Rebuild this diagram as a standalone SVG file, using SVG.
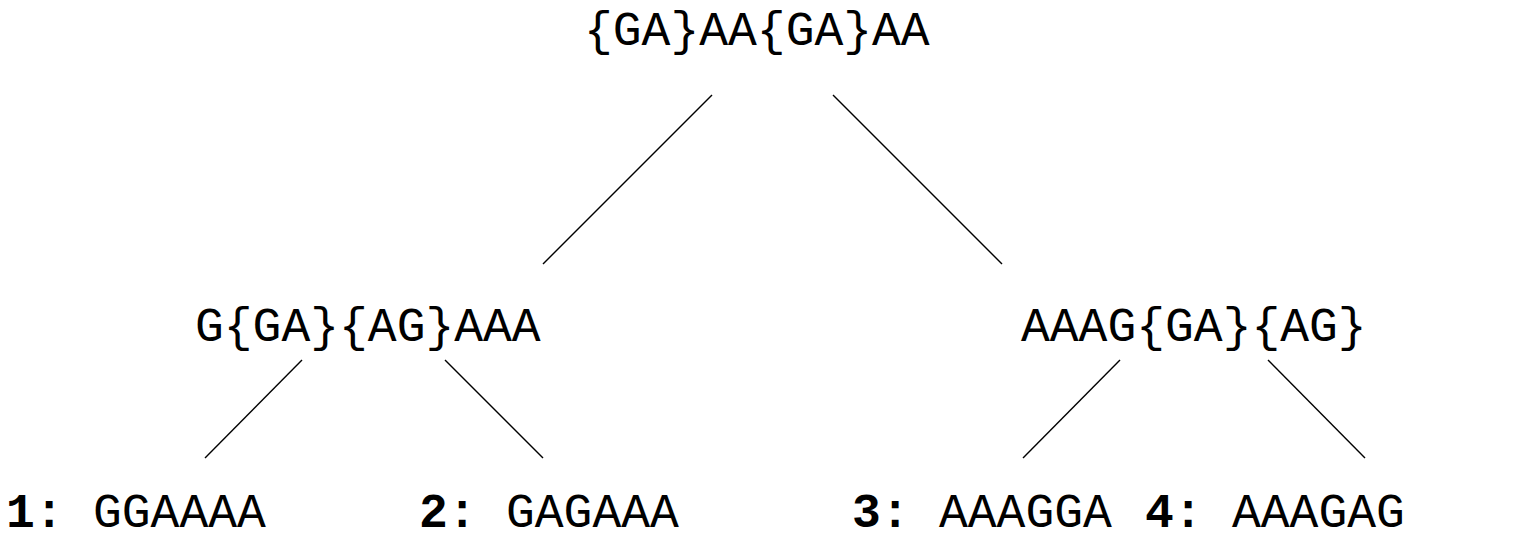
<svg xmlns="http://www.w3.org/2000/svg" width="1516" height="538" viewBox="0 0 1516 538">
  <style>
    .lbl { font-family: "Liberation Mono", "DejaVu Sans Mono", monospace; font-size: 48px; fill: #000; }
    .num { font-weight: bold; }
    .edge { stroke: #000; stroke-width: 1.4; fill: none; }
  </style>
  <rect width="1516" height="538" fill="#fff"/>

  <g id="connectors">
    <line class="edge" x1="712" y1="95" x2="543" y2="264"/>
    <line class="edge" x1="833" y1="95" x2="1002" y2="264"/>
    <line class="edge" x1="302" y1="360" x2="205" y2="458"/>
    <line class="edge" x1="445" y1="360" x2="543" y2="458"/>
    <line class="edge" x1="1120" y1="360" x2="1023" y2="458"/>
    <line class="edge" x1="1268" y1="360" x2="1365" y2="458"/>
  </g>

  <g id="root">
    <text class="lbl" x="584" y="45">{GA}AA{GA}AA</text>
  </g>
  <g id="left">
    <text class="lbl" x="195" y="341">G{GA}{AG}AAA</text>
  </g>
  <g id="right">
    <text class="lbl" x="1021" y="341">AAAG{GA}{AG}</text>
  </g>

  <g id="leaf1">
    <text class="lbl" y="527"><tspan class="num" x="6">1:</tspan><tspan x="93">GGAAAA</tspan></text>
  </g>
  <g id="leaf2">
    <text class="lbl" y="527"><tspan class="num" x="419">2:</tspan><tspan x="506">GAGAAA</tspan></text>
  </g>
  <g id="leaf3">
    <text class="lbl" y="527"><tspan class="num" x="852">3:</tspan><tspan x="939">AAAGGA</tspan></text>
  </g>
  <g id="leaf4">
    <text class="lbl" y="527"><tspan class="num" x="1145">4:</tspan><tspan x="1232">AAAGAG</tspan></text>
  </g>
</svg>
